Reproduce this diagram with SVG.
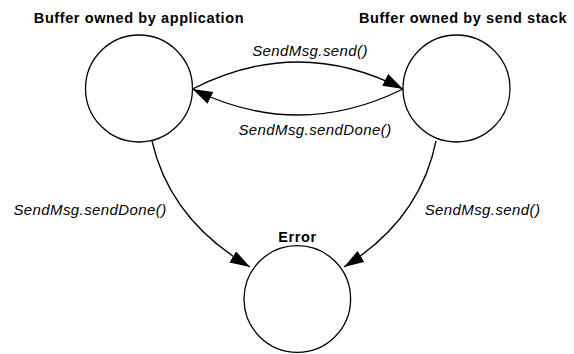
<svg xmlns="http://www.w3.org/2000/svg" width="574" height="354" viewBox="0 0 574 354">
  <defs>
    <style>
      .state { fill: #ffffff; stroke: #000000; stroke-width: 1.3; }
      .title { font-family: "Liberation Sans", Arial, sans-serif; font-weight: bold; font-size: 14.5px; letter-spacing: 0.6px; fill: #000000; text-anchor: middle; }
      .label { font-family: "Liberation Sans", Arial, sans-serif; font-style: italic; font-size: 15px; letter-spacing: 0.4px; fill: #000000; text-anchor: middle; }
      .edge { fill: none; stroke: #000000; stroke-width: 1.3; marker-end: url(#arrow); }
    </style>
    <marker id="arrow" markerUnits="userSpaceOnUse" markerWidth="22" markerHeight="14" refX="20" refY="6.5" orient="auto">
      <path d="M0,0 L20,6.5 L0,13 Z" fill="#000000"/>
    </marker>
  </defs>
  <g id="node-application">
    <circle class="state" cx="139" cy="88.5" r="53.5"/>
    <text class="title" x="139" y="23">Buffer owned by application</text>
  </g>
  <g id="node-sendstack">
    <circle class="state" cx="456.5" cy="88.5" r="53.5"/>
    <text class="title" x="463" y="23">Buffer owned by send stack</text>
  </g>
  <g id="node-error">
    <circle class="state" cx="297.3" cy="299" r="53.3"/>
    <text class="title" x="297.5" y="242">Error</text>
  </g>
  <g id="connectors">
    <path class="edge" d="M192.5,89 Q298,35 403,89"/>
    <path class="edge" d="M403,89 Q298,141 192.5,89"/>
    <path class="edge" d="M152,141 Q170,220 250,267"/>
    <path class="edge" d="M436,141 Q420,220 344,267"/>
    <text class="label" x="310" y="56">SendMsg.send()</text>
    <text class="label" x="315" y="135">SendMsg.sendDone()</text>
    <text class="label" x="90" y="215">SendMsg.sendDone()</text>
    <text class="label" x="482.5" y="215">SendMsg.send()</text>
  </g>
</svg>
